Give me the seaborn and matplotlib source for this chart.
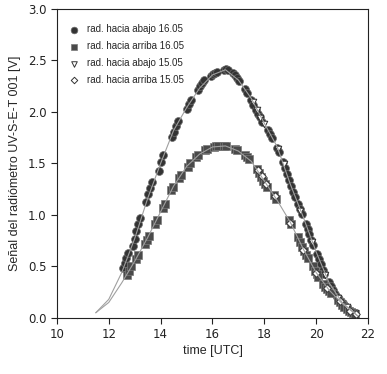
import matplotlib
matplotlib.use("Agg")
import matplotlib.pyplot as plt
import seaborn as sns
import pandas as pd

# --- data ---
down16_t = [12.56, 12.62, 12.68, 12.74, 12.93, 13.00, 13.07, 13.14, 13.20,
            13.45, 13.52, 13.59, 13.66, 13.95, 14.03, 14.11,
            14.45, 14.53, 14.61, 14.69, 15.00, 15.08, 15.16,
            15.45, 15.53, 15.61, 15.69, 15.95, 16.03, 16.11, 16.19,
            16.45, 16.53, 16.61, 16.80, 16.88, 16.96, 17.04, 17.25, 17.33,
            17.50, 17.58, 17.66, 17.74, 17.82, 17.90, 18.15, 18.22, 18.30,
            18.50, 18.56, 18.72, 18.80, 18.88, 18.96, 19.04, 19.12, 19.20,
            19.28, 19.36, 19.44, 19.60, 19.67, 19.74, 19.81, 19.88,
            20.04, 20.11, 20.18, 20.25, 20.32, 20.48, 20.56, 20.64, 20.72,
            20.80, 20.88, 21.05, 21.13, 21.21, 21.29, 21.37, 21.45]
down16_v = [0.48, 0.53, 0.58, 0.63, 0.70, 0.77, 0.84, 0.91, 0.97,
            1.13, 1.20, 1.26, 1.32, 1.43, 1.51, 1.58,
            1.76, 1.81, 1.86, 1.91, 2.03, 2.08, 2.12,
            2.21, 2.25, 2.28, 2.31, 2.35, 2.37, 2.38, 2.39,
            2.41, 2.42, 2.41, 2.38, 2.36, 2.33, 2.30, 2.22, 2.18,
            2.12, 2.07, 2.02, 1.98, 1.95, 1.90, 1.82, 1.79, 1.75,
            1.65, 1.61, 1.51, 1.46, 1.40, 1.34, 1.28, 1.22, 1.17,
            1.11, 1.06, 1.01, 0.91, 0.86, 0.81, 0.76, 0.71,
            0.62, 0.57, 0.52, 0.47, 0.43, 0.35, 0.31, 0.27, 0.23,
            0.20, 0.18, 0.14, 0.12, 0.09, 0.07, 0.05, 0.04]

up16_t = [12.70, 12.78, 12.86, 13.05, 13.12, 13.38, 13.46, 13.54,
          13.78, 13.86, 14.08, 14.16, 14.40, 14.48, 14.72, 14.80,
          15.05, 15.13, 15.38, 15.46, 15.72, 15.80, 16.05, 16.13, 16.21,
          16.45, 16.53, 16.85, 16.93, 17.25, 17.33, 17.41,
          17.70, 17.78, 17.86, 17.94, 18.02, 18.10, 18.38, 18.45,
          18.95, 19.03, 19.28, 19.36, 19.44, 19.52, 19.60, 19.68,
          19.86, 19.94, 20.02, 20.08, 20.25, 20.33, 20.41, 20.49, 20.57,
          20.85, 20.93, 21.01, 21.09, 21.17, 21.25, 21.33, 21.41, 21.49]
up16_v = [0.42, 0.46, 0.50, 0.57, 0.61, 0.72, 0.76, 0.80,
          0.91, 0.95, 1.07, 1.11, 1.24, 1.27, 1.36, 1.39,
          1.47, 1.50, 1.56, 1.58, 1.63, 1.64, 1.66, 1.67, 1.67,
          1.67, 1.67, 1.64, 1.63, 1.58, 1.56, 1.54,
          1.45, 1.41, 1.37, 1.33, 1.30, 1.27, 1.19, 1.15,
          0.95, 0.91, 0.79, 0.74, 0.69, 0.65, 0.61, 0.58,
          0.50, 0.46, 0.43, 0.40, 0.33, 0.30, 0.28, 0.26, 0.24,
          0.17, 0.15, 0.13, 0.11, 0.09, 0.07, 0.06, 0.05, 0.04]

down15_t = [17.55, 17.70, 17.85, 18.00, 18.52, 18.75, 19.38, 19.85, 20.35, 20.85, 21.20, 21.50]
down15_v = [2.10, 2.02, 1.94, 1.88, 1.64, 1.49, 1.04, 0.74, 0.42, 0.19, 0.11, 0.05]

up15_t = [17.75, 17.90, 18.05, 18.40, 19.00, 19.50, 20.00, 20.40, 20.90, 21.30, 21.55]
up15_v = [1.44, 1.38, 1.30, 1.18, 0.92, 0.66, 0.44, 0.29, 0.16, 0.07, 0.04]

down_line_t = [11.5, 12.0, 12.5, 13.0, 13.5, 14.0, 14.5, 15.0, 15.5, 16.0, 16.5,
               17.0, 17.5, 18.0, 18.5, 19.0, 19.5, 20.0, 20.5, 21.0, 21.6]
down_line_v = [0.05, 0.18, 0.44, 0.77, 1.16, 1.50, 1.82, 2.04, 2.23, 2.36, 2.41,
               2.31, 2.13, 1.89, 1.66, 1.30, 0.98, 0.64, 0.34, 0.15, 0.02]
up_line_t = [11.5, 12.0, 12.5, 13.0, 13.5, 14.0, 14.5, 15.0, 15.5, 16.0, 16.5,
             17.0, 17.5, 18.0, 18.5, 19.0, 19.5, 20.0, 20.5, 21.0, 21.6]
up_line_v = [0.05, 0.15, 0.34, 0.55, 0.78, 1.03, 1.28, 1.47, 1.59, 1.66, 1.67,
             1.62, 1.52, 1.33, 1.14, 0.93, 0.67, 0.44, 0.27, 0.14, 0.02]

labels = ["rad. hacia abajo 16.05", "rad. hacia arriba 16.05",
          "rad. hacia abajo 15.05", "rad. hacia arriba 15.05"]
x_ticks = [10, 12, 14, 16, 18, 20, 22]
y_ticks = [0.0, 0.5, 1.0, 1.5, 2.0, 2.5, 3.0]

sns.set_style("ticks")
plt.rcParams['font.family'] = ['DejaVu Sans']

fig = plt.figure(figsize=(3.87, 3.74), dpi=100)
ax = fig.add_axes([0.147, 0.150, 0.804, 0.826])

sns.scatterplot(x=down16_t, y=down16_v, ax=ax, marker='o', s=32,
                color='#333333', edgecolor='#6a6a6a', linewidth=0.5,
                label=labels[0], zorder=2)
sns.scatterplot(x=up16_t, y=up16_v, ax=ax, marker='s', s=26,
                color='#4a4a4a', edgecolor='#7a7a7a', linewidth=0.5,
                label=labels[1], zorder=2)
sns.scatterplot(x=down15_t, y=down15_v, ax=ax, marker='v', s=22,
                facecolor='white', edgecolor='#333333', linewidth=0.7,
                label=labels[2], zorder=3)
sns.scatterplot(x=up15_t, y=up15_v, ax=ax, marker='D', s=15,
                facecolor='white', edgecolor='#333333', linewidth=0.7,
                label=labels[3], zorder=3)

sns.lineplot(x=down_line_t, y=down_line_v, ax=ax, sort=False, color='#a0a0a0',
             linewidth=0.8, zorder=4, legend=False)
sns.lineplot(x=up_line_t, y=up_line_v, ax=ax, sort=False, color='#a0a0a0',
             linewidth=0.8, zorder=4, legend=False)

ax.set_xlim(10, 22)
ax.set_ylim(0, 3)
ax.set_xticks(x_ticks)
ax.set_yticks(y_ticks)
ax.set_xticklabels([str(t) for t in x_ticks])
ax.set_yticklabels([f"{t:.1f}" for t in y_ticks])
ax.tick_params(labelsize=8.5, length=4, width=0.8, colors='#222222', direction='out')
for s in ax.spines.values():
    s.set_linewidth(0.8)
    s.set_color('#222222')

ax.set_xlabel("time [UTC]", fontsize=9, family='Liberation Sans', labelpad=3)
ax.set_ylabel("Señal del radiómetro UV-S-E-T 001 [V]", fontsize=9,
              family='Liberation Sans', labelpad=5)

leg = ax.legend(loc='upper left', frameon=False, prop={'family': 'Liberation Sans', 'size': 7},
                handletextpad=0.3, labelspacing=0.7, borderaxespad=0.4,
                bbox_to_anchor=(0.0, 0.975), markerscale=0.85)

fig.savefig("out.png", dpi=100)
